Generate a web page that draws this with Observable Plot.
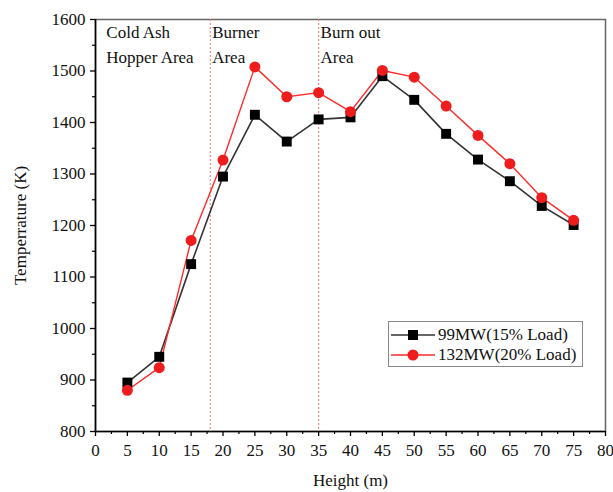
<!DOCTYPE html>
<html>
<head>
<meta charset="utf-8">
<script src="https://cdn.jsdelivr.net/npm/d3@7"></script>
<script src="https://cdn.jsdelivr.net/npm/@observablehq/plot@0.6"></script>
<style>
  html, body { margin: 0; padding: 0; background: #fff; }
  #wrap { position: relative; width: 613px; height: 492px; font-family: "Liberation Serif", "DejaVu Serif", serif; }
  #legend { position: absolute; left: 388px; top: 321px; width: 195px; height: 46px; border: 1px solid #888; background: #fff; box-sizing: border-box; }
  .row { position: absolute; left: 0; height: 20px; display: flex; align-items: center; font-size: 17px; color: #111; white-space: nowrap; }
  .row svg { margin-left: 2px; margin-right: 3px; }
</style>
</head>
<body>
<div id="wrap"></div>
<script>
// ---- data ----
const heights = [5, 10, 15, 20, 25, 30, 35, 40, 45, 50, 55, 60, 65, 70, 75];
const temp99 = [895, 945, 1125, 1295, 1415, 1363, 1406, 1410, 1490, 1444, 1378, 1328, 1286, 1238, 1201];
const temp132 = [880, 924, 1171, 1327, 1508, 1450, 1458, 1421, 1501, 1488, 1432, 1375, 1320, 1254, 1210];
const seriesNames = ["99MW(15% Load)", "132MW(20% Load)"];
const zoneBounds = [18, 35];
const zoneLabels = ["Cold Ash\nHopper Area", "Burner\nArea", "Burn out\nArea"];
const zoneLabelX = [1.7, 18.3, 35.3];
const xTicks = d3.range(0, 81, 5);
const xMinor = d3.range(2.5, 80, 5);
const yTicks = d3.range(800, 1601, 100);
const yMinor = d3.range(850, 1600, 100);

const colors = ["#000000", "#ee1c1c"];
const lineColors = ["#333333", "#ff2a2a"];

const s99 = heights.map((h, i) => ({x: h, y: temp99[i]}));
const s132 = heights.map((h, i) => ({x: h, y: temp132[i]}));
const ann = zoneLabels.map((t, i) => ({x: zoneLabelX[i], y: 1600, t}));

const chart = Plot.plot({
  width: 613,
  height: 492,
  marginLeft: 95,
  marginRight: 8,
  marginTop: 19,
  marginBottom: 61,
  style: { fontFamily: "Liberation Serif, serif", fontSize: "17px", background: "#fff", color: "#111" },
  x: { domain: [0, 80] },
  y: { domain: [800, 1600] },
  marks: [
    Plot.frame({ stroke: "#666", strokeWidth: 1.5 }),
    Plot.ruleX(zoneBounds, { stroke: "#f07070", strokeWidth: 1, strokeDasharray: "2,2" }),
    Plot.text(ann, { x: "x", y: "y", text: "t", textAnchor: "start", lineAnchor: "top", dy: 1, lineHeight: 1.45, fontSize: 17, fill: "#111" }),
    Plot.line(s99, { x: "x", y: "y", stroke: lineColors[0], strokeWidth: 1.6 }),
    Plot.line(s132, { x: "x", y: "y", stroke: lineColors[1], strokeWidth: 1.4 }),
    Plot.dot(s99, { x: "x", y: "y", symbol: "square", r: 5.6, fill: colors[0], stroke: "none" }),
    Plot.dot(s132, { x: "x", y: "y", symbol: "circle", r: 5.5, fill: colors[1], stroke: "none" }),
    Plot.axisX({ ticks: xTicks, tickSize: 5, tickPadding: 7, stroke: "#000", strokeWidth: 1.3, label: "Height (m)", labelAnchor: "center", labelArrow: "none", labelOffset: 54, fontSize: 17 }),
    Plot.axisX({ ticks: xMinor, tickSize: 3, tickFormat: () => "", stroke: "#000", strokeWidth: 1.2, label: null }),
    Plot.axisY({ ticks: yTicks, tickSize: 5, tickPadding: 5, stroke: "#000", strokeWidth: 1.3, tickFormat: d => String(d), label: "Temperrature (K)", labelAnchor: "center", labelArrow: "none", labelOffset: 82, fontSize: 17 }),
    Plot.axisY({ ticks: yMinor, tickSize: 3, tickFormat: () => "", stroke: "#000", strokeWidth: 1.2, label: null }),
    Plot.ruleX([0], { stroke: "#000", strokeWidth: 1.6 }),
    Plot.ruleY([800], { stroke: "#000", strokeWidth: 1.6 })
  ]
});

const wrap = document.getElementById("wrap");
wrap.appendChild(chart);

// legend
const legend = document.createElement("div");
legend.id = "legend";
seriesNames.forEach((name, i) => {
  const row = document.createElement("div");
  row.className = "row";
  row.style.top = (i === 0 ? 3 : 23) + "px";
  const sym = i === 0
    ? `<rect x="17" y="5" width="10" height="10" fill="${colors[0]}"/>`
    : `<circle cx="22" cy="10" r="5.5" fill="${colors[1]}"/>`;
  row.innerHTML = `<svg width="44" height="20"><line x1="0" x2="44" y1="10" y2="10" stroke="${lineColors[i]}" stroke-width="1.5"/>${sym}</svg><span>${name}</span>`;
  legend.appendChild(row);
});
wrap.appendChild(legend);
</script>
</body>
</html>
